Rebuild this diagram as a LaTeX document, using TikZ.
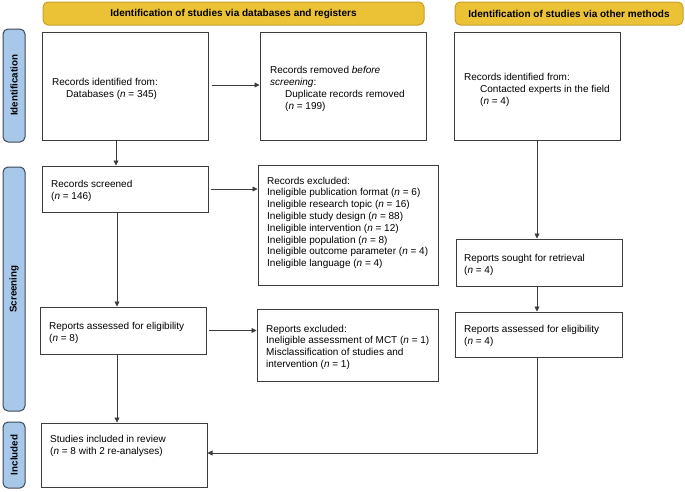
\documentclass[tikz,border=0pt]{standalone}
\usepackage{fontspec}
\setmainfont{Liberation Sans}
\usetikzlibrary{arrows.meta,calc}
\definecolor{hdrfill}{RGB}{235,194,54}
\definecolor{hdrdraw}{RGB}{200,160,40}
\definecolor{barfill}{RGB}{168,200,234}
\definecolor{bardraw}{RGB}{60,72,88}
\definecolor{boxdraw}{RGB}{60,60,60}
\definecolor{linecol}{RGB}{60,60,60}
\begin{document}
\begin{tikzpicture}[x=1pt,y=-1pt,
  box/.style={draw=boxdraw,line width=1pt,rectangle,inner sep=0pt},
  txt/.style={anchor=west,align=left,inner sep=0pt,font=\fontsize{10}{11.8}\selectfont,yshift=-1.8pt},
  hdr/.style={draw=hdrdraw,fill=hdrfill,line width=1pt,rounded corners=5pt,inner sep=0pt,font=\fontsize{10}{12}\selectfont\bfseries},
  bar/.style={draw=bardraw,fill=barfill,line width=1pt,rounded corners=5pt,inner sep=0pt,minimum width=22pt},
  bartxt/.style={rotate=90,font=\fontsize{9.8}{11}\selectfont\bfseries,inner sep=0pt},
  arr/.style={draw=linecol,line width=0.8pt,-{Triangle[length=5pt,width=5pt]}}]
\useasboundingbox (0,0) rectangle (685,491);
% headers
\node[hdr,minimum width=381pt,minimum height=23pt] (h1) at (233.5,13.5) {Identification of studies via databases and registers};
\node[hdr,minimum width=228pt,minimum height=23pt] (h2) at (569,13.5) {Identification of studies via other methods};
% side bars
\node[bar,minimum height=113pt] (sb1) at (14,85.5) {};
\node[bartxt] (st1) at (sb1.center) {Identification};
\node[bar,minimum height=244pt] (sb2) at (14,289) {};
\node[bartxt] (st2) at (sb2.center) {Screening};
\node[bar,minimum height=66pt] (sb3) at (14,455) {};
\node[bartxt] (st3) at (sb3.center) {Included};
% boxes
\node[box,minimum width=166pt,minimum height=108pt] (b1) at (125,86) {};
\node[box,minimum width=166pt,minimum height=108pt] (b2) at (343,86) {};
\node[box,minimum width=166pt,minimum height=108pt] (b3) at (537,86) {};
\node[box,minimum width=166pt,minimum height=46pt] (b4) at (125,189) {};
\node[box,minimum width=180pt,minimum height=120pt] (b5) at (348,225) {};
\node[box,minimum width=166pt,minimum height=47pt] (b6) at (539,262.5) {};
\node[box,minimum width=167pt,minimum height=45pt] (b7) at (538.5,334.5) {};
\node[box,minimum width=181pt,minimum height=72pt] (b8) at (347.5,345) {};
\node[box,minimum width=166pt,minimum height=47pt] (b9) at (123,330.5) {};
\node[box,minimum width=166pt,minimum height=64pt] (b10) at (124,455) {};
% texts
\node[txt] (t1) at (52,87) {Records identified from:\\\hspace*{14pt}Databases (\textit{n} = 345)};
\node[txt] (t2) at (270,87) {Records removed \textit{before}\\\textit{screening}:\\\hspace*{15pt}Duplicate records removed\\\hspace*{15pt}(\textit{n} = 199)};
\node[txt] (t3) at (464,88) {Records identified from:\\\hspace*{16pt}Contacted experts in the field\\\hspace*{16pt}(\textit{n} = 4)};
\node[txt] (t4) at (51,189) {Records screened\\(\textit{n} = 146)};
\node[txt] (t5) at (267,221) {Records excluded:\\Ineligible publication format (\textit{n} = 6)\\Ineligible research topic (\textit{n} = 16)\\Ineligible study design (\textit{n} = 88)\\Ineligible intervention (\textit{n} = 12)\\Ineligible population (\textit{n} = 8)\\Ineligible outcome parameter (\textit{n} = 4)\\Ineligible language (\textit{n} = 4)};
\node[txt] (t6) at (464,263) {Reports sought for retrieval\\(\textit{n} = 4)};
\node[txt] (t7) at (464,334) {Reports assessed for eligibility\\(\textit{n} = 4)};
\node[txt] (t8) at (266,345.5) {Reports excluded:\\Ineligible assessment of MCT (\textit{n} = 1)\\Misclassification of studies and\\intervention (\textit{n} = 1)};
\node[txt] (t9) at (49,331) {Reports assessed for eligibility\\(\textit{n} = 8)};
\node[txt] (t10) at (50,444.5) {Studies included in review\\(\textit{n} = 8 with 2 re-analyses)};
% connectors
\draw[arr] ([xshift=3pt,yshift=1pt]b1.east) -- ([yshift=1pt]b2.west);
\draw[arr] ([xshift=-9pt]b1.south) -- ([xshift=-9pt]b1.south |- b4.north);
\draw[arr] ([xshift=2pt]b4.east) -- (b4.east -| b5.west);
\draw[arr] ([xshift=-8pt]b4.south) -- ([xshift=-8pt]b4.south |- b9.north);
\draw[arr] ([xshift=2pt]b9.east) -- (b9.east -| b8.west);
\draw[arr] ([xshift=-6pt]b9.south) -- ([xshift=-6pt]b9.south |- b10.north);
\draw[arr] (b3.south) -- (b3.south |- b6.north);
\draw[arr] (b3.south |- b6.south) -- (b3.south |- b7.north);
\draw[arr] (b3.south |- b7.south) |- ([yshift=2pt]b10.east);
\end{tikzpicture}
\end{document}
